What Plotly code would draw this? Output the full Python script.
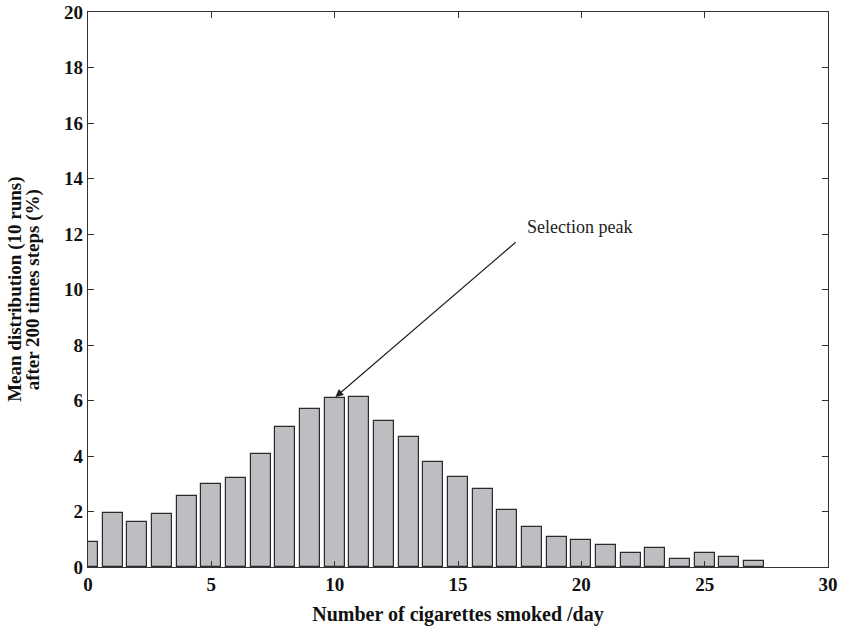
import plotly.graph_objects as go

cigarettes = list(range(28))
mean_pct = [0.89, 1.96, 1.63, 1.92, 2.56, 3.0, 3.2, 4.06, 5.04, 5.7,
            6.09, 6.12, 5.25, 4.67, 3.77, 3.23, 2.8, 2.05, 1.43, 1.08,
            0.98, 0.78, 0.5, 0.68, 0.3, 0.49, 0.35, 0.2]
x_ticks = [0, 5, 10, 15, 20, 25, 30]
y_ticks = [0, 2, 4, 6, 8, 10, 12, 14, 16, 18, 20]
y_title_lines = ["Mean distribution (10 runs)", "after 200 times steps (%)"]

FONT = "Liberation Serif"

fig = go.Figure()
fig.add_trace(go.Bar(
    x=cigarettes, y=mean_pct, width=0.82,
    marker=dict(color="#bdbec1", line=dict(color="#2b2b2b", width=1.2)),
    showlegend=False, cliponaxis=True,
))

fig.add_annotation(
    x=10, y=6.1, ax=17.4, ay=11.75, xref="x", yref="y", axref="x", ayref="y",
    text="", showarrow=True, arrowhead=2, arrowsize=1.3, arrowwidth=1.2,
    arrowcolor="#222", standoff=1,
)
fig.add_annotation(
    x=17.7, y=12.25, xref="x", yref="y", text="Selection peak", showarrow=False,
    xanchor="left", yanchor="middle",
    font=dict(family=FONT, size=18, color="#222"),
)
# y-axis title: two rotated lines placed as paper annotations
for xp, line in zip([-0.0995, -0.0745], y_title_lines):
    fig.add_annotation(
        x=xp, y=0.5, xref="paper", yref="paper", text=line,
        textangle=-90, showarrow=False, xanchor="center", yanchor="middle",
        font=dict(family=FONT, size=19, color="#111", weight="bold"),
    )

axis_common = dict(
    showline=True, linecolor="#333", linewidth=1.2, mirror="ticks",
    ticks="inside", ticklen=6, tickwidth=1.2, tickcolor="#333",
    showgrid=False, zeroline=False, automargin=False,
    ticklabeloverflow="allow",
    tickfont=dict(family=FONT, size=19, color="#111", weight="bold"),
)

fig.update_layout(
    width=845, height=634,
    margin=dict(l=88, r=17, t=12, b=67),
    plot_bgcolor="white", paper_bgcolor="white",
    bargap=0,
    xaxis=dict(range=[0, 30], tickvals=x_ticks,
               title=dict(text="Number of cigarettes smoked /day",
                          font=dict(family=FONT, size=20, color="#111", weight="bold"),
                          standoff=13),
               **axis_common),
    yaxis=dict(range=[0, 20], tickvals=y_ticks, **axis_common),
)

fig.write_html("out.html", config={"displayModeBar": False},
               post_script="document.body.style.margin='0';")
